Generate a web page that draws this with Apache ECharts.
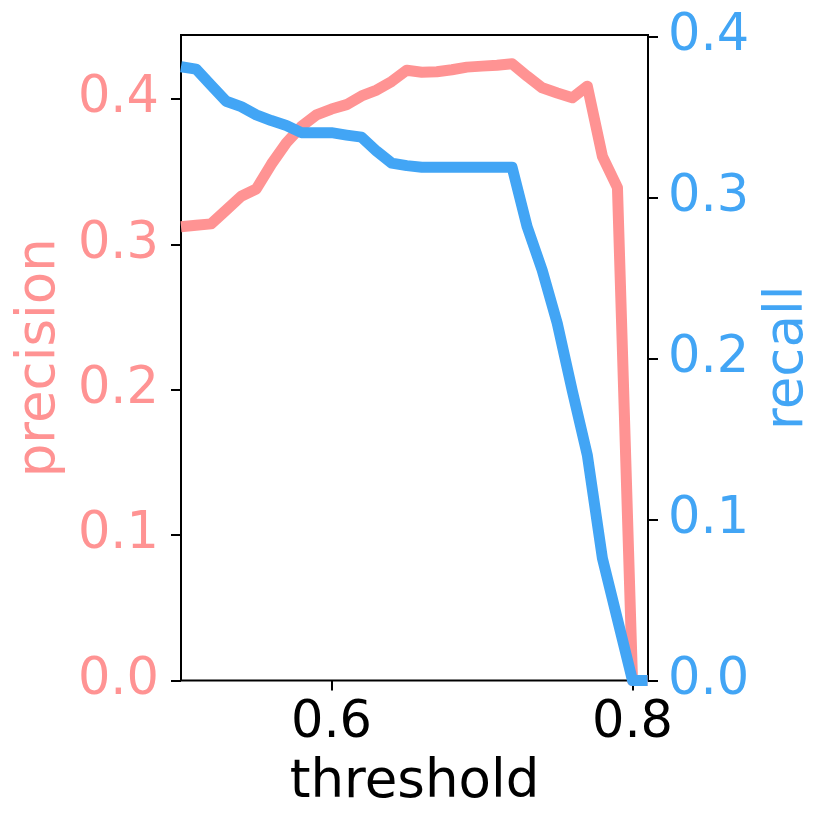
<!DOCTYPE html>
<html>
<head>
<meta charset="utf-8">
<script src="https://cdn.jsdelivr.net/npm/echarts@6/dist/echarts.min.js"></script>
<style>html,body{margin:0;padding:0;background:#fff;}#c{width:829px;height:829px;}</style>
</head>
<body>
<div id="c"></div>
<script>
var thresholds = [0.50,0.51,0.52,0.53,0.54,0.55,0.56,0.57,0.58,0.59,0.60,0.61,0.62,0.63,0.64,0.65,0.66,0.67,0.68,0.69,0.70,0.71,0.72,0.73,0.74,0.75,0.76,0.77,0.78,0.79,0.80,0.81];
var precision = [0.312,0.313,0.314,0.3235,0.333,0.338,0.355,0.3697,0.381,0.389,0.393,0.396,0.402,0.406,0.412,0.4197,0.4183,0.4186,0.420,0.4218,0.4225,0.4231,0.4241,0.4156,0.4076,0.404,0.4007,0.4087,0.3605,0.339,0,0];
var recall = [0.3815,0.380,0.370,0.360,0.3567,0.3516,0.348,0.345,0.3405,0.3405,0.3405,0.339,0.3377,0.329,0.3216,0.320,0.319,0.319,0.319,0.319,0.319,0.319,0.319,0.282,0.255,0.222,0.180,0.140,0.076,0.038,0,0];
var xTicks = [0.6, 0.8];
var precisionTicks = [0, 0.1, 0.2, 0.3, 0.4];
var recallTicks = [0, 0.1, 0.2, 0.3, 0.4];

var PINK = '#FF9393', BLUE = '#42A5F5';
var FONT = 'DejaVu Sans';
function pairs(xs, ys){ return xs.map(function(x,i){ return [x, ys[i]]; }); }
var fmt = function(v){ return Number(v).toFixed(1); };

var chart = echarts.init(document.getElementById('c'), null, {renderer:'canvas'});
chart.setOption({
  animation: false,
  backgroundColor: '#fff',
  grid: {left:181, right:181, top:35, bottom:148.5, show:true, borderColor:'#000', borderWidth:2, backgroundColor:'transparent'},
  xAxis: {
    type:'value', min:0.5, max:0.8103,
    name:'threshold', nameLocation:'middle', nameGap:76,
    nameTextStyle:{fontFamily:FONT, fontSize:53, color:'#000'},
    axisLine:{show:false},
    splitLine:{show:false},
    axisTick:{show:true, inside:false, length:10, lineStyle:{color:'#000', width:2}, customValues: xTicks},
    axisLabel:{fontFamily:FONT, fontSize:51, color:'#000', margin:18, formatter:fmt, customValues: xTicks}
  },
  yAxis: [{
    type:'value', min:0, max:0.4439, position:'left',
    name:'precision', nameLocation:'middle', nameRotate:90, nameGap:108,
    nameTextStyle:{fontFamily:FONT, fontSize:53, color:PINK},
    axisLine:{show:false},
    splitLine:{show:false},
    axisTick:{show:true, inside:false, length:10, lineStyle:{color:'#000', width:2}, customValues: precisionTicks},
    axisLabel:{fontFamily:FONT, fontSize:51, color:PINK, margin:22, formatter:fmt, customValues: precisionTicks}
  },{
    type:'value', min:0, max:0.4012, position:'right',
    name:'recall', nameLocation:'middle', nameRotate:90, nameGap:114,
    nameTextStyle:{fontFamily:FONT, fontSize:53, color:BLUE},
    axisLine:{show:false},
    splitLine:{show:false},
    axisTick:{show:true, inside:false, length:10, lineStyle:{color:'#000', width:2}, customValues: recallTicks},
    axisLabel:{fontFamily:FONT, fontSize:51, color:BLUE, margin:20, formatter:fmt, customValues: recallTicks}
  }],
  series: [{
    type:'line', yAxisIndex:0, data: pairs(thresholds, precision),
    showSymbol:false, symbol:'none', clip:true,
    lineStyle:{color:PINK, width:11, cap:'butt', join:'round'}
  },{
    type:'line', yAxisIndex:1, data: pairs(thresholds, recall),
    showSymbol:false, symbol:'none', clip:true,
    lineStyle:{color:BLUE, width:11, cap:'butt', join:'round'}
  }]
});
</script>
</body>
</html>
